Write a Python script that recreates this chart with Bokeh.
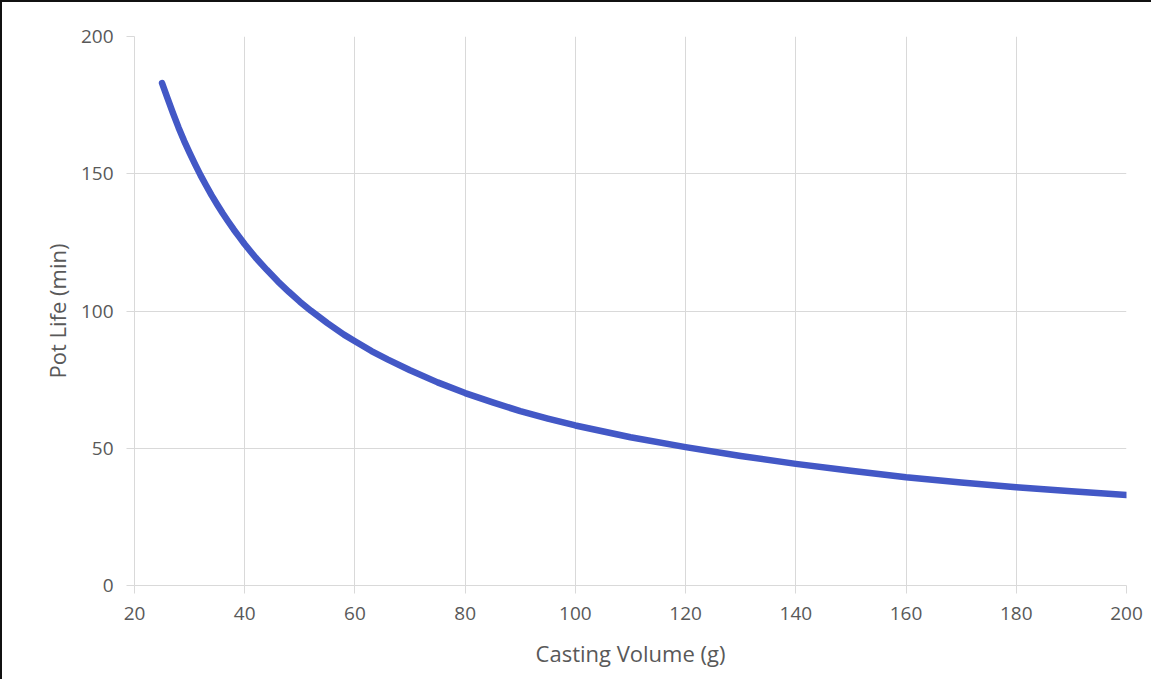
from bokeh.plotting import figure
from bokeh.models import FixedTicker, Range1d
from bokeh.embed import file_html
from bokeh.resources import INLINE

# Data
casting_volume_g = [25, 26, 27, 28, 29, 30, 31, 32, 33, 34, 35, 36, 37, 38, 39, 40,
                    42, 44, 46, 48, 50, 52, 55, 58, 60, 63, 66, 70, 75, 80, 85, 90, 95,
                    100, 110, 120, 130, 140, 150, 160, 170, 180, 190, 200]
pot_life_min = [183, 177.5, 172, 166.8, 162, 157.6, 153.4, 149.4, 145.7, 142.1, 138.8, 135.6,
                132.6, 129.7, 127, 124.3, 119.4, 115, 110.8, 107, 103.4, 100.1, 95.6, 91.4,
                89, 85.4, 82.3, 78.4, 74, 70.1, 66.7, 63.5, 60.8, 58.3, 54, 50.4, 47.2,
                44.3, 41.8, 39.4, 37.5, 35.8, 34.3, 33.0]
x_ticks = [20, 40, 60, 80, 100, 120, 140, 160, 180, 200]
y_ticks = [0, 50, 100, 150, 200]

FONT = "Open Sans"
TXT = "#595959"
GRID = "#d9d9d9"

p = figure(width=1151, height=679, output_backend="svg", toolbar_location=None,
           x_range=Range1d(20, 200), y_range=Range1d(0, 200),
           min_border_left=132, min_border_right=27, min_border_top=34, min_border_bottom=96,
           styles={"border-top": "2px solid #111111", "border-left": "2px solid #111111"})
p.outline_line_color = None
p.background_fill_color = "white"
p.border_fill_color = "white"

p.line(casting_volume_g, pot_life_min, line_color="#4358C6", line_width=6.5,
       line_cap="round", line_join="round")

for ax in (p.xaxis[0], p.yaxis[0]):
    ax.axis_line_color = GRID
    ax.major_tick_line_color = GRID
    ax.major_tick_out = 8
    ax.major_tick_in = 0
    ax.minor_tick_line_color = None
    ax.major_label_text_font = FONT
    ax.major_label_text_font_size = "19px"
    ax.major_label_text_color = TXT
    ax.axis_label_text_font = FONT
    ax.axis_label_text_font_size = "22px"
    ax.axis_label_text_font_style = "normal"
    ax.axis_label_text_color = TXT

p.xaxis.ticker = FixedTicker(ticks=x_ticks)
p.yaxis.ticker = FixedTicker(ticks=y_ticks)
p.xaxis.axis_label = "Casting Volume (g)"
p.yaxis.axis_label = "Pot Life (min)"
p.xaxis.major_label_standoff = 13
p.yaxis.major_label_standoff = 13
p.xaxis.axis_label_standoff = 15
p.yaxis.axis_label_standoff = 6

p.xgrid.ticker = FixedTicker(ticks=x_ticks)
p.ygrid.ticker = FixedTicker(ticks=y_ticks)
p.xgrid.grid_line_color = GRID
p.ygrid.grid_line_color = GRID

open("out.html", "w").write(file_html(p, INLINE))
